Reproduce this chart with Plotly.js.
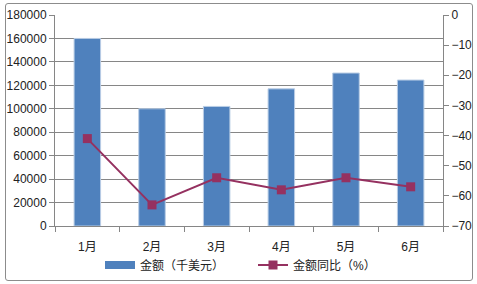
<!DOCTYPE html>
<html>
<head>
<meta charset="utf-8">
<script src="https://cdn.plot.ly/plotly-3.0.1.min.js"></script>
<style>
html,body{margin:0;padding:0;background:#fff;}
#wrap{position:relative;width:477px;height:284px;}
#chart{position:absolute;left:0;top:0;width:477px;height:284px;}
#frame{position:absolute;left:5px;top:3px;width:466px;height:276px;border:1px solid #8c8c8c;border-radius:3px;pointer-events:none;}
</style>
</head>
<body>
<div id="wrap"><div id="chart"></div><div id="frame"></div></div>
<script>
const months = ["1月","2月","3月","4月","5月","6月"];
const amount = [160000, 100000, 102000, 117000, 130500, 124500];
const yoy = [-41, -63, -54, -58, -54, -57];
const amountName = "金额（千美元）";
const yoyName = "金额同比（%）";

const font = "Liberation Sans, Noto Sans CJK SC, sans-serif";
const barColor = "#4F81BD";
const lineColor = "#953160";

const traces = [
  {
    type: "bar", x: months, y: amount, name: amountName, showlegend: false,
    marker: {color: barColor, line: {color: "#B9CDE5", width: 1}},
    yaxis: "y"
  },
  {
    // legend-only entry giving the wide rectangular bar swatch
    type: "scatter", mode: "lines", x: [null], y: [null], name: amountName,
    line: {color: barColor, width: 8}, yaxis: "y", hoverinfo: "skip"
  },
  {
    type: "scatter", mode: "lines+markers", x: months, y: yoy, name: yoyName,
    line: {color: lineColor, width: 2},
    marker: {symbol: "square", size: 9, color: lineColor},
    yaxis: "y2"
  }
];

const layout = {
  width: 477, height: 284,
  margin: {l: 55, r: 34, t: 15, b: 58},
  paper_bgcolor: "rgba(0,0,0,0)", plot_bgcolor: "#fff",
  font: {family: font, size: 12, color: "#222"},
  bargap: 0.59,
  showlegend: true,
  legend: {orientation: "h", xref: "container", yref: "container",
           x: 100/477, xanchor: "left", y: (284-265)/284, yanchor: "middle",
           font: {size: 12, color: "#222"}, traceorder: "normal", itemwidth: 30,
           entrywidth: 108, entrywidthmode: "pixels"},
  xaxis: {
    type: "category", showline: true, linecolor: "#868686", linewidth: 1,
    ticks: "outside", tickson: "boundaries", ticklen: 5, tickcolor: "#868686",
    showgrid: false, ticklabelstandoff: 10, fixedrange: true, automargin: false
  },
  yaxis: {
    range: [0, 180000], dtick: 20000, tick0: 0, automargin: false,
    showline: true, linecolor: "#868686", ticks: "outside", ticklen: 5, tickcolor: "#868686",
    showgrid: true, gridcolor: "#868686", gridwidth: 1, zeroline: false,
    tickformat: "d"
  },
  yaxis2: {
    range: [-70, 0], dtick: 10, tick0: 0, overlaying: "y", side: "right", automargin: false,
    showline: true, linecolor: "#868686", ticks: "outside", ticklen: 5, tickcolor: "#868686",
    showgrid: false, zeroline: false
  }
};

Plotly.newPlot("chart", traces, layout, {displayModeBar: false, staticPlot: true});
</script>
</body>
</html>
